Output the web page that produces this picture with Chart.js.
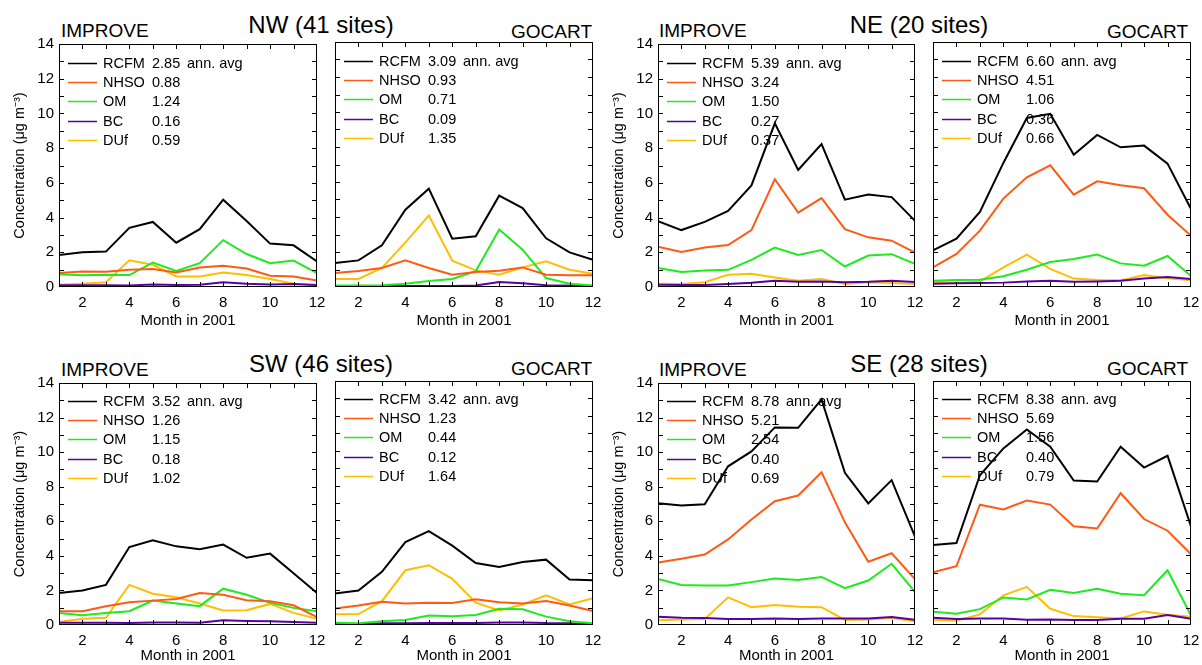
<!DOCTYPE html>
<html>
<head>
<meta charset="utf-8">
<script src="https://cdn.jsdelivr.net/npm/chart.js@4"></script>
<style>
  html, body { margin: 0; padding: 0; background: #fff; overflow: hidden; }
  body { width: 1202px; height: 665px; position: relative; font-family: "Liberation Sans", Arial, sans-serif; color: #000; }
  .box { position: absolute; }
  .lbl { position: absolute; line-height: 1; white-space: nowrap; }
  .src { font-size: 19px; }
  .reg { font-size: 24px; width: 240px; text-align: center; }
</style>
</head>
<body>
<div class="lbl src" style="left:61px;top:21px">IMPROVE</div>
<div class="lbl reg" style="left:201px;top:13px">NW (41 sites)</div>
<div class="lbl src" style="right:610px;top:22px">GOCART</div>

<div class="lbl src" style="left:659px;top:21px">IMPROVE</div>
<div class="lbl reg" style="left:799px;top:13px">NE (20 sites)</div>
<div class="lbl src" style="right:14px;top:22px">GOCART</div>

<div class="lbl src" style="left:61px;top:360px">IMPROVE</div>
<div class="lbl reg" style="left:201px;top:352px">SW (46 sites)</div>
<div class="lbl src" style="right:610px;top:359px">GOCART</div>

<div class="lbl src" style="left:659px;top:360px">IMPROVE</div>
<div class="lbl reg" style="left:799px;top:352px">SE (28 sites)</div>
<div class="lbl src" style="right:14px;top:359px">GOCART</div>

<div class="box" style="left:0px;top:30px"><canvas id="nwImp" width="335" height="300"></canvas></div>
<div class="box" style="left:325px;top:30px"><canvas id="nwGoc" width="286" height="300"></canvas></div>
<div class="box" style="left:600px;top:30px"><canvas id="neImp" width="333" height="300"></canvas></div>
<div class="box" style="left:923px;top:30px"><canvas id="neGoc" width="286" height="300"></canvas></div>
<div class="box" style="left:0px;top:369px"><canvas id="swImp" width="335" height="296"></canvas></div>
<div class="box" style="left:325px;top:369px"><canvas id="swGoc" width="286" height="296"></canvas></div>
<div class="box" style="left:600px;top:369px"><canvas id="seImp" width="333" height="296"></canvas></div>
<div class="box" style="left:923px;top:369px"><canvas id="seGoc" width="286" height="296"></canvas></div>

<script>
const months = [1, 2, 3, 4, 5, 6, 7, 8, 9, 10, 11, 12];
const species = ['RCFM', 'NHSO', 'OM', 'BC', 'DUf'];
const xTicks = [2, 4, 6, 8, 10, 12];
const yTicks = [0, 2, 4, 6, 8, 10, 12, 14];

// rows follow species order: RCFM, NHSO, OM, BC, DUf
const nwImprove = [
    [1.85, 2.0, 2.04, 3.41, 3.75, 2.55, 3.33, 5.03, 3.8, 2.5, 2.4, 1.47],
    [0.8, 0.9, 0.88, 1.0, 1.03, 0.84, 1.12, 1.22, 1.07, 0.65, 0.61, 0.38],
    [0.74, 0.67, 0.7, 0.69, 1.41, 0.93, 1.37, 2.7, 1.9, 1.37, 1.52, 0.8],
    [0.1, 0.1, 0.1, 0.08, 0.15, 0.11, 0.13, 0.27, 0.19, 0.15, 0.17, 0.11],
    [0.13, 0.19, 0.27, 1.54, 1.28, 0.61, 0.61, 0.84, 0.69, 0.46, 0.19, 0.08]
];
const nwImproveAvg = ['2.85', '0.88', '1.24', '0.16', '0.59'];

const nwGocart = [
    [1.37, 1.52, 2.38, 4.42, 5.62, 2.76, 2.9, 5.22, 4.51, 2.78, 1.98, 1.56],
    [0.8, 0.91, 1.09, 1.52, 1.09, 0.7, 0.86, 0.93, 1.12, 0.7, 0.67, 0.67],
    [0.08, 0.08, 0.1, 0.19, 0.34, 0.46, 0.9, 3.28, 2.13, 0.51, 0.19, 0.08],
    [0.06, 0.06, 0.06, 0.06, 0.06, 0.06, 0.08, 0.29, 0.21, 0.1, 0.08, 0.06],
    [0.46, 0.46, 1.09, 2.55, 4.08, 1.5, 0.95, 0.7, 1.12, 1.47, 0.99, 0.76]
];
const nwGocartAvg = ['3.09', '0.93', '0.71', '0.09', '1.35'];

const neImprove = [
    [3.79, 3.28, 3.75, 4.38, 5.85, 9.43, 6.74, 8.23, 5.03, 5.33, 5.18, 3.81],
    [2.32, 2.02, 2.27, 2.42, 3.28, 6.21, 4.29, 5.12, 3.33, 2.86, 2.67, 1.98],
    [1.09, 0.86, 0.95, 0.99, 1.56, 2.27, 1.85, 2.13, 1.18, 1.81, 1.89, 1.33],
    [0.13, 0.11, 0.11, 0.17, 0.25, 0.36, 0.3, 0.32, 0.27, 0.3, 0.36, 0.29],
    [0.19, 0.17, 0.27, 0.7, 0.76, 0.55, 0.36, 0.46, 0.17, 0.27, 0.23, 0.17]
];
const neImproveAvg = ['5.39', '3.24', '1.50', '0.27', '0.37'];

const neGocart = [
    [2.1, 2.76, 4.29, 7.09, 9.66, 9.9, 7.56, 8.69, 7.98, 8.08, 7.05, 4.46],
    [1.12, 1.89, 3.22, 5.05, 6.27, 6.95, 5.28, 6.04, 5.81, 5.64, 4.13, 2.93],
    [0.36, 0.4, 0.42, 0.61, 0.99, 1.43, 1.6, 1.85, 1.35, 1.22, 1.77, 0.63],
    [0.19, 0.21, 0.23, 0.25, 0.32, 0.36, 0.3, 0.32, 0.36, 0.48, 0.57, 0.46],
    [0.3, 0.23, 0.32, 1.12, 1.85, 1.03, 0.48, 0.4, 0.38, 0.69, 0.5, 0.38]
];
const neGocartAvg = ['6.60', '4.51', '1.06', '0.36', '0.66'];

const swImprove = [
    [1.85, 2.0, 2.32, 4.51, 4.9, 4.55, 4.38, 4.65, 3.89, 4.13, 2.99, 1.85],
    [0.8, 0.8, 1.09, 1.31, 1.41, 1.5, 1.85, 1.75, 1.43, 1.37, 1.14, 0.46],
    [0.7, 0.57, 0.7, 0.8, 1.41, 1.24, 1.09, 2.1, 1.75, 1.28, 0.99, 0.8],
    [0.13, 0.13, 0.13, 0.11, 0.15, 0.15, 0.13, 0.27, 0.23, 0.21, 0.17, 0.13],
    [0.17, 0.36, 0.42, 2.32, 1.81, 1.6, 1.24, 0.84, 0.86, 1.22, 0.7, 0.36]
];
const swImproveAvg = ['3.52', '1.26', '1.15', '0.18', '1.02'];

const swGocart = [
    [1.81, 1.98, 3.05, 4.76, 5.39, 4.55, 3.56, 3.33, 3.62, 3.75, 2.61, 2.57],
    [0.95, 1.12, 1.33, 1.24, 1.28, 1.26, 1.47, 1.31, 1.24, 1.37, 1.12, 0.8],
    [0.13, 0.1, 0.21, 0.29, 0.55, 0.5, 0.57, 0.93, 0.9, 0.48, 0.21, 0.1],
    [0.06, 0.06, 0.1, 0.1, 0.11, 0.11, 0.11, 0.15, 0.15, 0.11, 0.1, 0.04],
    [0.61, 0.63, 1.37, 3.14, 3.43, 2.65, 1.28, 0.84, 1.18, 1.7, 1.18, 1.54]
];
const swGocartAvg = ['3.42', '1.23', '0.44', '0.12', '1.64'];

const seImprove = [
    [7.05, 6.91, 6.99, 9.18, 10.04, 11.43, 11.41, 13.05, 8.8, 7.03, 8.38, 5.12],
    [3.62, 3.83, 4.08, 4.95, 6.1, 7.16, 7.49, 8.84, 5.94, 3.66, 4.15, 2.65],
    [2.67, 2.32, 2.29, 2.29, 2.48, 2.69, 2.61, 2.78, 2.13, 2.57, 3.54, 1.9],
    [0.48, 0.42, 0.4, 0.34, 0.34, 0.38, 0.34, 0.38, 0.38, 0.38, 0.46, 0.3],
    [0.27, 0.32, 0.34, 1.6, 1.03, 1.16, 1.05, 1.03, 0.29, 0.32, 0.4, 0.21]
];
const seImproveAvg = ['8.78', '5.21', '2.54', '0.40', '0.69'];

const seGocart = [
    [4.59, 4.7, 8.59, 10.13, 11.22, 10.23, 8.29, 8.23, 10.23, 9.03, 9.71, 5.66],
    [3.03, 3.37, 6.9, 6.63, 7.14, 6.91, 5.66, 5.54, 7.56, 6.08, 5.41, 4.06],
    [0.76, 0.65, 0.91, 1.58, 1.47, 2.02, 1.83, 2.08, 1.79, 1.71, 3.14, 0.55],
    [0.42, 0.34, 0.38, 0.38, 0.3, 0.32, 0.29, 0.29, 0.36, 0.36, 0.57, 0.36],
    [0.3, 0.25, 0.61, 1.7, 2.19, 0.93, 0.51, 0.44, 0.38, 0.78, 0.59, 0.48]
];
const seGocartAvg = ['8.38', '5.69', '1.56', '0.40', '0.79'];

const colors = ['#000000', 'rgb(255, 90, 20)', 'rgb(30, 235, 30)', 'rgb(90, 0, 160)', 'rgb(255, 190, 0)'];
const fontFamily = '"Liberation Sans", Arial, sans-serif';

// box round the plot with inward ticks on all four sides
const frame = {
    id: 'frame',
    afterDatasetsDraw(chart) {
        const { ctx, chartArea: a, scales: { x, y } } = chart;
        ctx.save();
        ctx.strokeStyle = '#000';
        ctx.lineWidth = 1;
        ctx.strokeRect(a.left + 0.5, a.top + 0.5, a.right - a.left - 1, a.bottom - a.top - 1);
        ctx.beginPath();
        for (let v = 1; v < 14; v++) {
            const py = Math.round(y.getPixelForValue(v)) + 0.5;
            ctx.moveTo(a.left, py); ctx.lineTo(a.left + 5, py);
            ctx.moveTo(a.right, py); ctx.lineTo(a.right - 5, py);
        }
        for (let m = 2; m < 12; m++) {
            const px = Math.round(x.getPixelForValue(m)) + 0.5;
            ctx.moveTo(px, a.bottom); ctx.lineTo(px, a.bottom - 5);
            ctx.moveTo(px, a.top); ctx.lineTo(px, a.top + 5);
        }
        ctx.stroke();
        ctx.restore();
    }
};

const avgLegend = {
    id: 'avgLegend',
    beforeDatasetsDraw(chart, args, opts) {
        const { ctx, chartArea: a } = chart;
        ctx.save();
        ctx.font = '14.5px ' + fontFamily;
        ctx.textBaseline = 'middle';
        chart.data.datasets.forEach((ds, i) => {
            const yy = Math.round(a.top + opts.top + i * 19.2) + 0.5;
            ctx.strokeStyle = ds.borderColor;
            ctx.lineWidth = 1.5;
            ctx.beginPath();
            ctx.moveTo(a.left + 9, yy);
            ctx.lineTo(a.left + 38, yy);
            ctx.stroke();
            ctx.fillStyle = '#000';
            ctx.fillText(ds.label, a.left + 44, yy);
            ctx.fillText(opts.values[i], a.left + 93, yy);
            if (i === 0) ctx.fillText('ann. avg', a.left + 128, yy);
        });
        ctx.restore();
    }
};

function makePanel(id, rows, avgs, leftPanel, topRow) {
    new Chart(document.getElementById(id), {
        type: 'line',
        data: {
            datasets: species.map((s, i) => ({
                label: s,
                data: months.map((m, j) => ({ x: m, y: rows[i][j] })),
                borderColor: colors[i],
                borderWidth: 2,
                pointRadius: 0,
                tension: 0
            }))
        },
        options: {
            responsive: false,
            animation: false,
            layout: { padding: { top: 12, right: 18, left: leftPanel ? (id === 'neImp' || id === 'seImp' ? 10 : 11) : 0, bottom: 0 } },
            plugins: {
                legend: { display: false },
                tooltip: { enabled: false },
                avgLegend: { values: avgs, top: topRow ? 19 : 18 }
            },
            scales: {
                x: {
                    type: 'linear',
                    min: 1,
                    max: 12,
                    afterBuildTicks: s => { s.ticks = xTicks.map(v => ({ value: v })); },
                    afterFit: s => { s.height = topRow ? 43 : 40; },
                    grid: { display: false, drawTicks: false },
                    border: { display: false },
                    ticks: { color: '#000', font: { size: 15, family: fontFamily }, padding: 7, maxRotation: 0, autoSkip: false },
                    title: { display: true, text: 'Month in 2001', color: '#000', font: { size: 15, family: fontFamily }, padding: 0 }
                },
                y: {
                    min: 0,
                    max: 14,
                    afterBuildTicks: s => { s.ticks = yTicks.map(v => ({ value: v })); },
                    afterFit: s => { s.width = leftPanel ? 48 : 10; },
                    grid: { display: false, drawTicks: false },
                    border: { display: false },
                    ticks: { display: leftPanel, color: '#000', font: { size: 15, family: fontFamily }, padding: 5 },
                    title: { display: leftPanel, text: 'Concentration (μg m⁻³)', color: '#000', font: { size: 14.5, family: fontFamily }, padding: 0 }
                }
            }
        },
        plugins: [avgLegend, frame]
    });
}

makePanel('nwImp', nwImprove, nwImproveAvg, true, true);
makePanel('nwGoc', nwGocart, nwGocartAvg, false, true);
makePanel('neImp', neImprove, neImproveAvg, true, true);
makePanel('neGoc', neGocart, neGocartAvg, false, true);
makePanel('swImp', swImprove, swImproveAvg, true, false);
makePanel('swGoc', swGocart, swGocartAvg, false, false);
makePanel('seImp', seImprove, seImproveAvg, true, false);
makePanel('seGoc', seGocart, seGocartAvg, false, false);
</script>
</body>
</html>
